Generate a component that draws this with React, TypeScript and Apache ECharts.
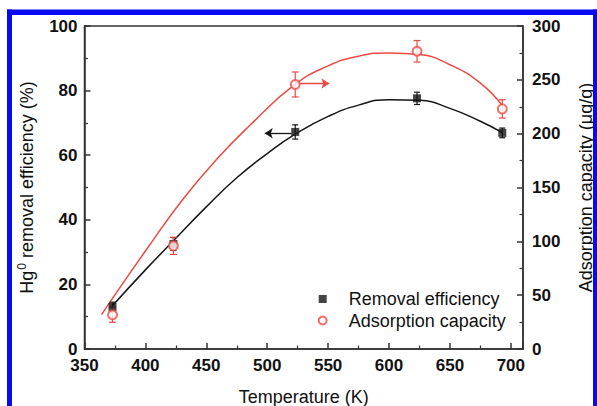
import React, { useEffect, useRef } from 'react';
import * as echarts from 'echarts';

// Measured data points
const temperatures = [373, 423, 523, 623, 693];
const removalEfficiency = [13, 32.5, 67.2, 77.6, 66.9];
const removalError = [1.5, 2, 2.2, 1.9, 1.5];
const adsorptionCapacity = [31.8, 95.8, 245.7, 276.5, 223];
const adsorptionError = [7, 8, 11.6, 10, 8.5];

// Fitted curves
const removalFitT = [372, 400, 423, 450, 475, 500, 523, 550, 575, 600, 625, 650, 675, 693];
const removalFitV = [13, 24.5, 33.5, 44, 53, 60.5, 66.5, 72, 75.5, 77.2, 77, 74.5, 70.5, 67];
const capacityFitT = [364, 373, 400, 430, 460, 486, 522, 550, 575, 600, 625, 650, 675, 693];
const capacityFitV = [32, 47, 91, 138, 178, 208, 245, 263, 272, 275, 273.5, 264, 247, 226];

// Arrows [fromT, toT, value]
const removalArrow = [520, 498, 66.8];
const capacityArrow = [525, 551, 246.6];

const xTickLabels = [350, 400, 450, 500, 550, 600, 650, 700];

const FONT = 'Liberation Sans, Arial, Helvetica, sans-serif';
const BLACK = '#151515';
const RED = '#ee4a44';

function errorSeries(vals: number[], errs: number[], yAxisIndex: number, color: string, capW: number) {
  return {
    type: 'custom',
    yAxisIndex,
    silent: true,
    z: 3,
    encode: { x: 0, y: [1, 2] },
    data: temperatures.map((t, i) => [t, vals[i] - errs[i], vals[i] + errs[i]]),
    renderItem: (params: any, api: any) => {
      const lo = api.coord([api.value(0), api.value(1)]);
      const hi = api.coord([api.value(0), api.value(2)]);
      const style = { stroke: color, lineWidth: 1.2 };
      return {
        type: 'group',
        children: [
          { type: 'line', shape: { x1: lo[0], y1: lo[1], x2: hi[0], y2: hi[1] }, style },
          { type: 'line', shape: { x1: lo[0] - capW, y1: lo[1], x2: lo[0] + capW, y2: lo[1] }, style },
          { type: 'line', shape: { x1: hi[0] - capW, y1: hi[1], x2: hi[0] + capW, y2: hi[1] }, style },
        ],
      };
    },
  };
}

export default function App() {
  const ref = useRef<HTMLDivElement>(null);
  useEffect(() => {
    if (!ref.current) return;
    const chart = echarts.init(ref.current, undefined, { renderer: 'svg' });
    const axisLine = { show: true, lineStyle: { color: '#333', width: 1.5 } };
    const tickLabel = { fontSize: 17, fontWeight: 'bold', color: '#111', fontFamily: FONT };
    chart.setOption({
      animation: false,
      backgroundColor: '#fff',
      graphic: [
        { type: 'rect', shape: { x: 7, y: 9.5, width: 5, height: 400 }, style: { fill: '#0a0af2' }, z: 100 },
        { type: 'rect', shape: { x: 7, y: 9.5, width: 590, height: 5.5 }, style: { fill: '#0a0af2' }, z: 100 },
        { type: 'rect', shape: { x: 593, y: 9.5, width: 5, height: 400 }, style: { fill: '#0a0af2' }, z: 100 },
      ],
      grid: {
        left: 84.5, right: 74, top: 26, bottom: 57,
        outerBoundsMode: 'none', containLabel: false,
        show: true, borderColor: '#333', borderWidth: 1.5, backgroundColor: 'transparent',
      },
      legend: {
        data: [
          { name: 'Removal efficiency', icon: 'rect' },
          { name: 'Adsorption capacity', icon: 'emptyCircle' },
        ],
        orient: 'vertical',
        left: 317.7,
        top: 289,
        padding: 0,
        itemWidth: 8,
        itemHeight: 8,
        itemGap: 1.5,
        textStyle: { fontSize: 18, fontFamily: FONT, color: '#111', lineHeight: 20, padding: [0, 0, 0, 17] },
      },
      xAxis: {
        type: 'value',
        min: 350,
        max: 710,
        interval: 50,
        name: 'Temperature (K)',
        nameLocation: 'middle',
        nameGap: 39,
        nameTextStyle: { fontSize: 18, fontFamily: FONT, color: '#111' },
        axisLine,
        axisTick: { show: true, inside: true, length: 6, lineStyle: { color: '#333', width: 1.5 } },
        minorTick: { show: true, splitNumber: 2, length: 3.5, lineStyle: { color: '#333', width: 1.2 } },
        splitLine: { show: false },
        axisLabel: {
          ...tickLabel,
          margin: 8,
          formatter: (v: number) => (xTickLabels.includes(v) ? String(v) : ''),
        },
      },
      yAxis: [
        {
          type: 'value',
          min: 0,
          max: 100,
          interval: 20,
          position: 'left',
          name: '{b|Hg}{s|0}{b| removal efficiency (%)}',
          nameLocation: 'middle',
          nameRotate: 90,
          nameGap: 46,
          nameTextStyle: {
            color: '#111',
            rich: {
              b: { fontSize: 18, fontFamily: FONT, color: '#111' },
              s: { fontSize: 12, fontFamily: FONT, color: '#111', padding: [0, 0, 11, 1] },
            },
          },
          axisLine,
          axisTick: { show: true, inside: true, length: 6, lineStyle: { color: '#333', width: 1.5 } },
          minorTick: { show: true, splitNumber: 2, length: 3.5, lineStyle: { color: '#333', width: 1.2 } },
          splitLine: { show: false },
          axisLabel: { ...tickLabel, margin: 7 },
        },
        {
          type: 'value',
          min: 0,
          max: 300,
          interval: 50,
          position: 'right',
          name: 'Adsorption capacity (μg/g)',
          nameLocation: 'middle',
          nameRotate: 90,
          nameGap: 54,
          nameTextStyle: { fontSize: 18, fontFamily: FONT, color: '#111' },
          axisLine,
          axisTick: { show: true, inside: true, length: 6, lineStyle: { color: '#333', width: 1.5 } },
          minorTick: { show: true, splitNumber: 2, length: 3.5, lineStyle: { color: '#333', width: 1.2 } },
          splitLine: { show: false },
          axisLabel: { ...tickLabel, margin: 9 },
        },
      ],
      series: [
        {
          name: 'removalFit',
          type: 'line',
          yAxisIndex: 0,
          smooth: true,
          showSymbol: false,
          silent: true,
          z: 2,
          lineStyle: { color: BLACK, width: 1.5 },
          data: removalFitT.map((t, i) => [t, removalFitV[i]]),
          markLine: {
            silent: true,
            symbol: ['none', 'arrow'],
            symbolSize: 8,
            label: { show: false },
            lineStyle: { color: BLACK, width: 1.3, type: 'solid' },
            data: [[{ coord: [removalArrow[0], removalArrow[2]] }, { coord: [removalArrow[1], removalArrow[2]] }]],
          },
        },
        {
          name: 'capacityFit',
          type: 'line',
          yAxisIndex: 1,
          smooth: true,
          showSymbol: false,
          silent: true,
          z: 2,
          lineStyle: { color: RED, width: 1.5 },
          data: capacityFitT.map((t, i) => [t, capacityFitV[i]]),
          markLine: {
            silent: true,
            symbol: ['none', 'arrow'],
            symbolSize: 8,
            label: { show: false },
            lineStyle: { color: RED, width: 1.3, type: 'solid' },
            data: [[{ coord: [capacityArrow[0], capacityArrow[2]] }, { coord: [capacityArrow[1], capacityArrow[2]] }]],
          },
        },
        errorSeries(removalEfficiency, removalError, 0, BLACK, 3),
        errorSeries(adsorptionCapacity, adsorptionError, 1, RED, 3.5),
        {
          name: 'Removal efficiency',
          type: 'scatter',
          yAxisIndex: 0,
          symbol: 'rect',
          symbolSize: 8,
          z: 4,
          itemStyle: { color: BLACK },
          data: temperatures.map((t, i) => [t, removalEfficiency[i]]),
        },
        {
          name: 'Adsorption capacity',
          type: 'scatter',
          yAxisIndex: 1,
          symbol: 'emptyCircle',
          symbolSize: 9,
          z: 5,
          itemStyle: { color: RED, borderColor: RED, borderWidth: 1.3 },
          data: temperatures.map((t, i) => [t, adsorptionCapacity[i]]),
        },
      ],
    });
    return () => chart.dispose();
  }, []);
  return (
    <div
      ref={ref}
      style={{ position: 'fixed', left: 0, top: 0, width: 597, height: 406, background: '#fff' }}
    />
  );
}
